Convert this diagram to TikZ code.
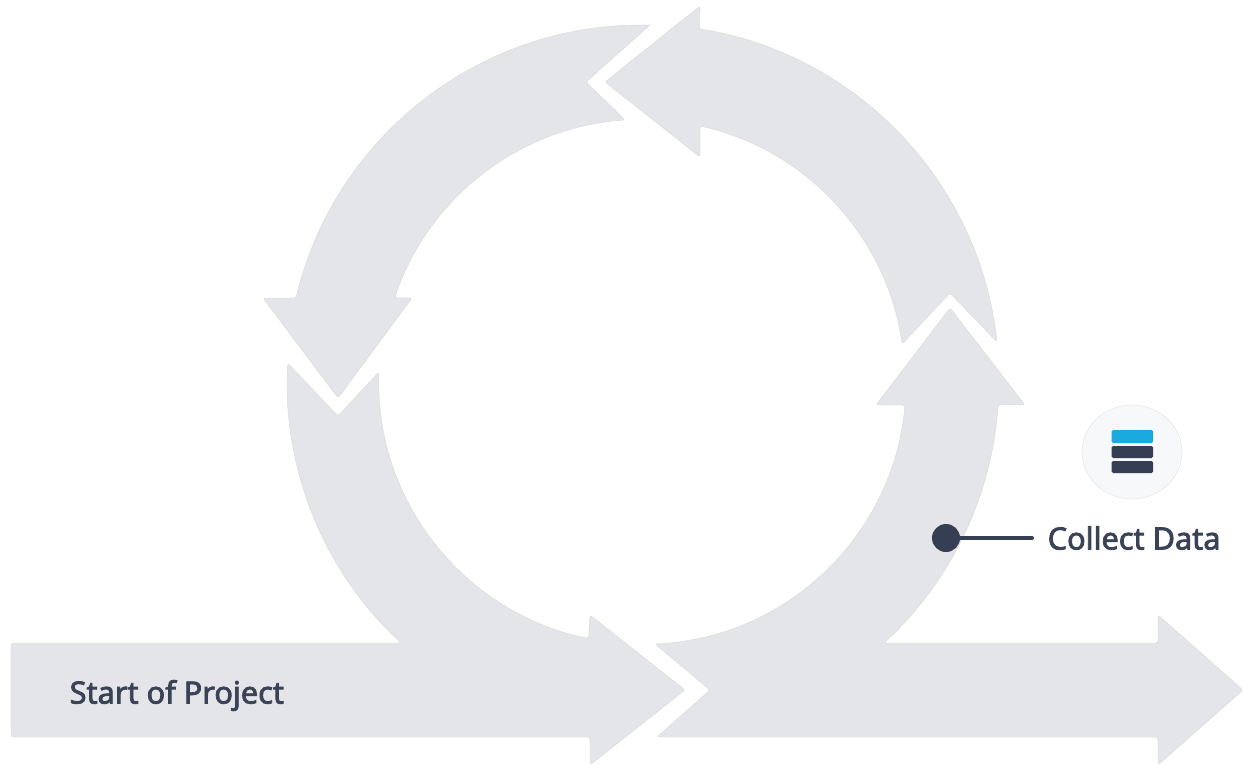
\documentclass[tikz,border=0pt]{standalone}
\usepackage{fontspec}
\usetikzlibrary{shapes.geometric}
\setmainfont{Noto Sans}[Scale=1]
\newfontfamily\lblfont{Noto Sans}
\newcommand{\heavytext}[1]{\special{pdf:code q 2 Tr 0.75 w 0.227 0.259 0.337 RG}#1\special{pdf:code Q}}
\definecolor{arrowfill}{HTML}{E4E5E9}
\definecolor{arrowedge}{HTML}{D8D9DD}
\definecolor{ink}{HTML}{3A4256}
\definecolor{bardark}{HTML}{353E52}
\definecolor{barblue}{HTML}{1AA9DE}
\definecolor{iconbg}{HTML}{F7F8F9}
\definecolor{iconedge}{HTML}{E0E1E4}
\tikzset{
  loopshape/.style={fill=arrowfill,draw=arrowedge,line width=0.4pt,rounded corners=2.5pt},
  iconbar/.style={rounded corners=1.5pt,draw=none},
  lbl/.style={text=ink,inner sep=0pt,font=\lblfont\fontsize{30.7}{30.7}\selectfont}
}
\begin{document}
\begin{tikzpicture}[x=1pt,y=1pt,yscale=-1]
\useasboundingbox (0,0) rectangle (1243,765);
% lower-left arrow with entry bar
\path[loopshape] (11,643) -- (401,643) arc[start angle=132.85,end angle=183.05,radius=356pt]
  -- (338,416) -- (379,372) arc[start angle=181.95,end angle=101.7,radius=263pt]
  -- (590,615) -- (685,690) -- (590,765) -- (590,737) -- (11,737) -- cycle;
% lower-right arrow with exit bar
\path[loopshape] (657,737) -- (1158,737) -- (1158,765) -- (1243,690) -- (1158,615) -- (1158,643) -- (884,643)
  arc[start angle=47.3,end angle=3.85,radius=357pt]
  -- (1025,405) -- (950,308) -- (876,405) -- (905,405)
  arc[start angle=5.2,end angle=87.4,radius=263pt] -- (710,690) -- cycle;
% upper-right arrow
\path[loopshape] (904,342) -- (950,293) -- (997,342)
  arc[start angle=-6.3,end angle=-80.8,radius=357pt]
  -- (700,6) -- (605,82) -- (700,157) -- (700,126)
  arc[start angle=-77.4,end angle=-8.5,radius=262pt] -- cycle;
% upper-left arrow
\path[loopshape] (650,25) -- (586,82) -- (625,120)
  arc[start angle=-93.95,end angle=-161.4,radius=262pt]
  -- (412,298) -- (338,398) -- (263,298) -- (296,298)
  arc[start angle=-166.5,end angle=-88.9,radius=356pt] -- cycle;
% icon
\node[ellipse,minimum width=100pt,minimum height=94pt,inner sep=0pt,fill=iconbg,draw=iconedge,line width=0.4pt] (icon) at (1132,452) {};
\fill[barblue,iconbar] (1111.5,430) rectangle (1153,443);
\fill[bardark,iconbar] (1111.5,446) rectangle (1153,458);
\fill[bardark,iconbar] (1111.5,461) rectangle (1153,473);
% callout
\coordinate (leadend) at (1032,538);
\node[circle,fill=bardark,minimum size=28pt,inner sep=0pt] (dot) at (946,538) {};
\draw[bardark,line width=4pt,line cap=round] (dot) -- (leadend);
\node[lbl,anchor=west] (collect) at (1047.5,538) {\heavytext{Collect Data}};
\node[lbl,anchor=west] (start) at (69.5,695.5) {\heavytext{Start of Project}};
\end{tikzpicture}
\end{document}
